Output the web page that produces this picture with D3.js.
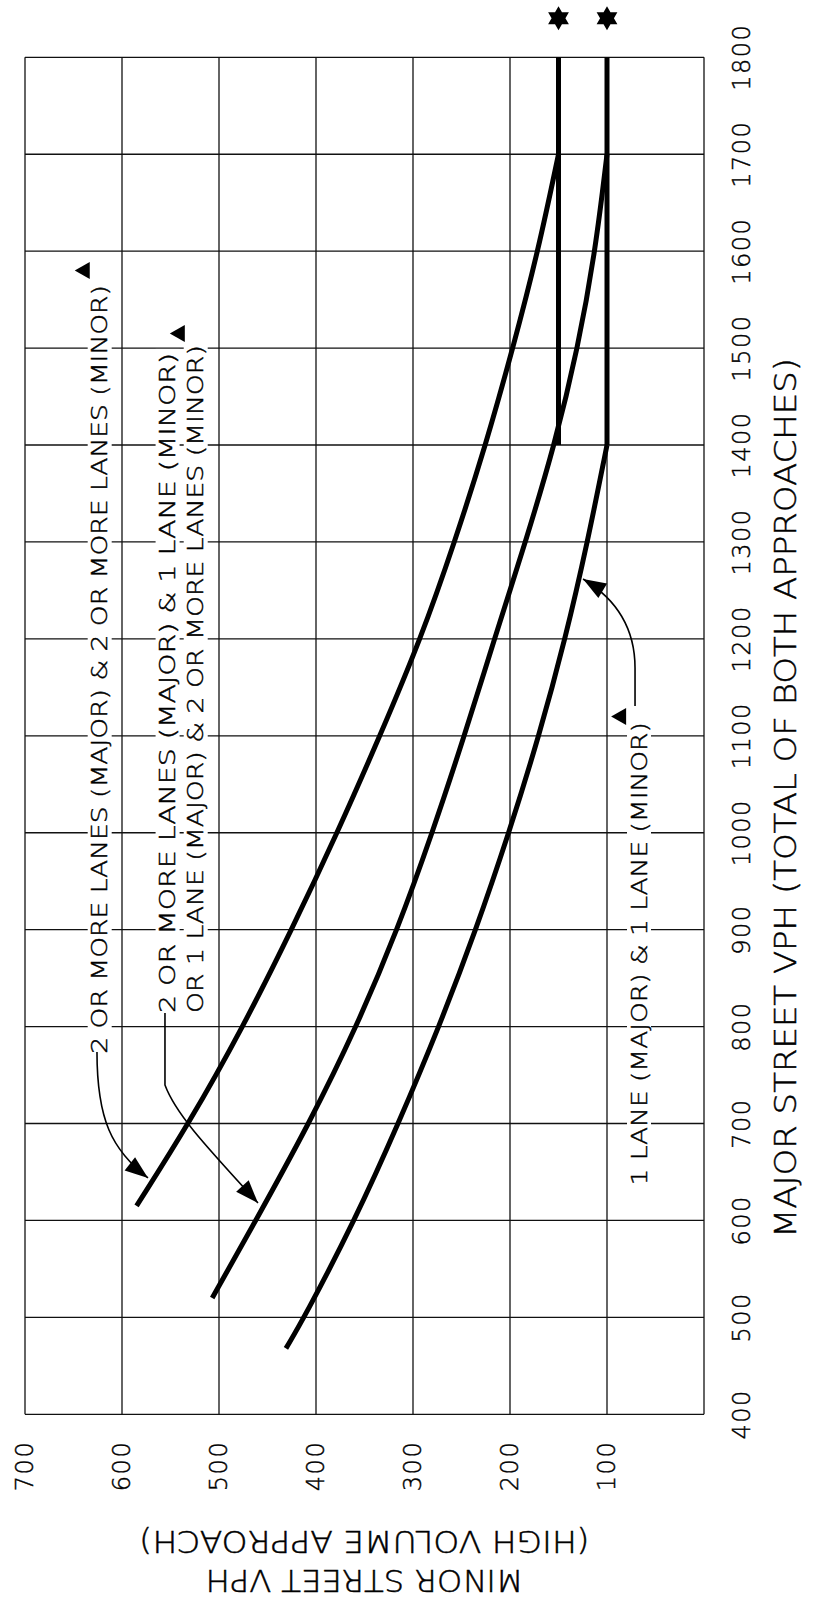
<!DOCTYPE html>
<html><head><meta charset="utf-8">
<script src="https://cdn.jsdelivr.net/npm/d3@7"></script>
<style>
html,body{margin:0;padding:0;background:#fff;}
svg{display:block;}
text{font-family:'DejaVu Sans',sans-serif;font-weight:200;fill:#000;stroke:#000;stroke-width:0.45;}
</style></head><body>
<script>
// ---- data (major street vph, minor street vph) ----
const majorTicks = [400,500,600,700,800,900,1000,1100,1200,1300,1400,1500,1600,1700,1800];
const minorTicks = [100,200,300,400,500,600,700];
const minorGrid = [0,100,200,300,400,500,600,700];
const curveTwoTwo = [[615,585],[700,531],[800,475],[900,425],[1000,378],[1100,334],[1200,292],[1300,257],[1400,225],[1500,197],[1600,171],[1700,150]];
const curveTwoOne = [[520,507],[600,462],[700,407],[800,358],[900,316],[1000,280],[1100,247],[1200,216],[1300,184],[1400,154],[1500,130],[1600,112],[1700,100]];
const curveOneOne = [[468,431],[500,412],[600,360],[700,315],[800,273],[900,235],[1000,201],[1100,170],[1200,143],[1300,120],[1400,100]];
const thresholdLevels = [150,100];
const thresholdRange = [1400,1800];
const majorTitle = "MAJOR STREET VPH (TOTAL OF BOTH APPROACHES)";
const minorTitle = ["MINOR STREET VPH","(HIGH VOLUME APPROACH)"];
const labelTexts = ["2 OR MORE LANES (MAJOR) & 2 OR MORE LANES (MINOR)",
  "2 OR MORE LANES (MAJOR) & 1 LANE (MINOR)",
  "OR 1 LANE (MAJOR) & 2 OR MORE LANES (MINOR)",
  "1 LANE (MAJOR) & 1 LANE (MINOR)"];
// label anchors: [startMajor, endMajor, minor]
const labelPos = [[772,1565,623],[814,1495,553],[814,1503,524],[636,1114,67]];
const markerPos = [[1580,641],[1515,543],[1120,88]];
const arrowPaths = [
  [[773.8,625.8],[703.6,625.8],[672.7,610.3],[643.8,573.2]],
  [[814,555.7],[739.7,555.7],[711.9,545.4],[683,519.6],[618,459.8]],
  [[1130.7,71.1],[1169.9,71.1],[1209.1,71.1],[1240.1,88.7],[1261.8,124.7]]
];

const W = 1606, H = 817;
const svg = d3.select("body").append("svg").attr("width",817).attr("height",1606);
const defs = svg.append("defs");
defs.append("marker").attr("id","ah").attr("markerUnits","userSpaceOnUse")
  .attr("markerWidth",30).attr("markerHeight",30).attr("refX",0).attr("refY",0)
  .attr("viewBox","-26 -13 30 26").attr("orient","auto")
  .append("path").attr("d","M0,0 L-23,-8.5 L-23,8.5 Z").attr("fill","#000");

const g = svg.append("g").attr("transform",`translate(0,${W}) rotate(-90)`);
const x = d3.scaleLinear().domain([400,1800]).range([191.7,1548.7]);
const y = d3.scaleLinear().domain([0,700]).range([704,25]);

// grid
g.append("g").selectAll("line").data(majorTicks).join("line")
  .attr("x1",d=>x(d)).attr("x2",d=>x(d)).attr("y1",y(0)).attr("y2",y(700))
  .attr("stroke","#111").attr("stroke-width",1.3);
g.append("g").selectAll("line").data(minorGrid).join("line")
  .attr("x1",x(400)).attr("x2",x(1800)).attr("y1",d=>y(d)).attr("y2",d=>y(d))
  .attr("stroke","#111").attr("stroke-width",1.3);

// tick labels
g.append("g").selectAll("text").data(majorTicks).join("text")
  .attr("x",d=>x(d)).attr("y",742).attr("text-anchor","middle").attr("dominant-baseline","central")
  .attr("font-size",24).attr("letter-spacing",1.5).text(d=>d);
g.append("g").selectAll("text").data(minorTicks).join("text")
  .attr("x",140).attr("y",d=>y(d)).attr("text-anchor","middle").attr("dominant-baseline","central")
  .attr("font-size",24).attr("letter-spacing",1.5).text(d=>d);

// axis titles
g.append("text").attr("x",808).attr("y",785).attr("text-anchor","middle").attr("dominant-baseline","central")
  .attr("font-size",30).attr("textLength",880).attr("lengthAdjust","spacingAndGlyphs").text(majorTitle);
minorTitle.forEach((t,i)=>{
  const u = i===0 ? 26 : 65;
  g.append("text").attr("transform",`translate(${u},${y(350)}) rotate(-90)`)
   .attr("text-anchor","middle").attr("dominant-baseline","central")
   .attr("font-size",30).attr("textLength",i===0?318:450).attr("lengthAdjust","spacingAndGlyphs").text(t);
});

// curves
const line = d3.line().x(d=>x(d[0])).y(d=>y(d[1])).curve(d3.curveBasis);
[curveTwoTwo,curveTwoOne,curveOneOne].forEach(c=>{
  g.append("path").attr("d",line(c)).attr("fill","none").attr("stroke","#000").attr("stroke-width",5);
});
thresholdLevels.forEach(l=>{
  g.append("line").attr("x1",x(thresholdRange[0])).attr("x2",x(thresholdRange[1]))
   .attr("y1",y(l)).attr("y2",y(l)).attr("stroke","#000").attr("stroke-width",5);
});

// stars
function hexagram(R){
  const pts=[];
  for(let k=0;k<12;k++){const a=Math.PI/6*k - Math.PI/2; const r=k%2?R/Math.sqrt(3):R; pts.push([r*Math.cos(a),r*Math.sin(a)]);}
  return "M"+pts.map(p=>p.join(",")).join("L")+"Z";
}
thresholdLevels.forEach(l=>{
  g.append("path").attr("d",hexagram(12)).attr("transform",`translate(${x(1800)+39},${y(l)}) rotate(90)`).attr("fill","#000");
});

// labels
labelTexts.forEach((t,i)=>{
  const p = labelPos[i];
  g.append("rect").attr("x",x(p[0])-4).attr("y",y(p[2])-12).attr("width",x(p[1])-x(p[0])+8).attr("height",24).attr("fill","#fff");
});
labelTexts.forEach((t,i)=>{
  const p = labelPos[i];
  g.append("text").attr("x",x(p[0])).attr("y",y(p[2])).attr("dominant-baseline","central")
   .attr("font-size",22).attr("textLength",x(p[1])-x(p[0])).attr("lengthAdjust","spacingAndGlyphs").text(t);
});
markerPos.forEach(m=>{
  const cx=x(m[0]), cy=y(m[1]);
  g.append("path").attr("d",`M${cx},${cy-7.5} L${cx+8.5},${cy+7.5} L${cx-8.5},${cy+7.5} Z`).attr("fill","#000");
});

// arrows
arrowPaths.forEach(a=>{
  const P = a.map(d=>[x(d[0]),y(d[1])]);
  let d;
  if(P.length===4) d = `M${P[0]} C${P[1]} ${P[2]} ${P[3]}`;
  else d = `M${P[0]} L${P[1]} C${P[2]} ${P[3]} ${P[4]}`;
  g.append("path").attr("d",d).attr("fill","none").attr("stroke","#000").attr("stroke-width",1.6).attr("marker-end","url(#ah)");
});
</script></body></html>
